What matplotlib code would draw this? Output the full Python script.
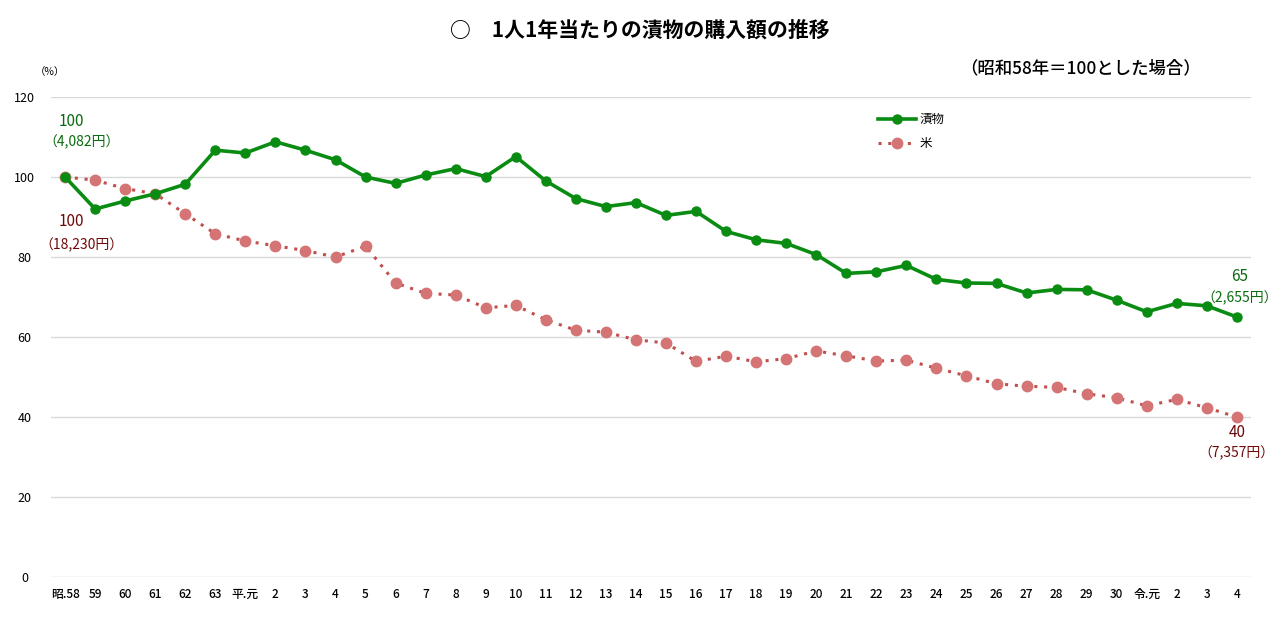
import matplotlib.pyplot as plt
import numpy as np

plt.rcParams['font.family'] = ['Noto Sans CJK JP', 'DejaVu Sans']

# x categories (昭和58年 ～ 令和4年)
years = ['昭.58', '59', '60', '61', '62', '63', '平.元'] + [str(i) for i in range(2, 31)] + ['令.元', '2', '3', '4']

# 漬物 index (昭和58年=100)
tsukemono = [100, 92, 94, 95.8, 98.2, 106.7, 106, 108.8, 106.7, 104.3,
             100, 98.4, 100.5, 102.1, 100.1, 105.1, 99, 94.6, 92.6, 93.6,
             90.4, 91.4, 86.4, 84.3, 83.4, 80.6, 75.9, 76.3, 77.9, 74.4,
             73.5, 73.4, 71, 71.9, 71.8, 69.2, 66.3, 68.4, 67.8, 65]

# 米 index (昭和58年=100)
kome = [100, 99.2, 97.1, 95.8, 90.8, 85.8, 84, 82.8, 81.6, 80,
        82.7, 73.5, 70.9, 70.5, 67.3, 67.9, 64.3, 61.7, 61.2, 59.3,
        58.5, 53.9, 55.2, 53.8, 54.6, 56.5, 55.3, 54, 54.2, 52.2,
        50.3, 48.3, 47.7, 47.4, 45.8, 44.8, 42.8, 44.4, 42.3, 40]

green = '#0a8c12'
green_txt = '#0b6b10'
red_line = '#c0504d'
red_mk = '#d47474'
red_txt = '#6e0a0a'

x = np.arange(len(years))

fig = plt.figure(figsize=(12.8, 6.22), dpi=100)
ax = fig.add_axes([51/1280, 1 - 577/622, 1200/1280, 480/622])

ax.plot(x, tsukemono, color=green, lw=2.6, marker='o', ms=6.5, label='漬物', zorder=3)
ax.plot(x, kome, color=red_line, lw=2.2, ls=(0, (1, 2.2)), marker='o', ms=7.5,
        mfc=red_mk, mec=red_mk, label='米', zorder=2)

ax.set_ylim(0, 120)
ax.set_xlim(-0.47, len(years) - 1 + 0.47)
ax.set_yticks(range(0, 121, 20))
ax.set_xticks(x)
ax.set_xticklabels(years, fontsize=8.5, fontweight='medium')
ax.grid(axis='y', color='#d9d9d9', lw=1)
ax.set_axisbelow(True)
for s in ax.spines.values():
    s.set_visible(False)
ax.tick_params(axis='both', length=0)
ax.tick_params(axis='x', pad=8)
ax.tick_params(axis='y', pad=19, labelsize=9)
for lab in ax.get_yticklabels():
    lab.set_horizontalalignment('center')

# value labels
ax.text(0.2, 114, '100', color=green_txt, fontsize=11, ha='center', va='center')
ax.text(0.55, 108.7, '（4,082円）', color=green_txt, fontsize=10, ha='center', va='center')
ax.text(0.2, 89, '100', color=red_txt, fontsize=11, ha='center', va='center')
ax.text(0.55, 83, '（18,230円）', color=red_txt, fontsize=10, ha='center', va='center')
ax.text(39.1, 75.2, '65', color=green_txt, fontsize=11, ha='center', va='center')
ax.text(39.1, 69.7, '（2,655円）', color=green_txt, fontsize=10, ha='center', va='center')
ax.text(39.0, 36.2, '40', color=red_txt, fontsize=11, ha='center', va='center')
ax.text(39.0, 31, '（7,357円）', color=red_txt, fontsize=10, ha='center', va='center')

ax.legend(loc='upper left', bbox_to_anchor=(0.68, 0.99), frameon=False,
          fontsize=9, handlelength=3, labelspacing=0.9, handletextpad=0.3)

fig.text(640/1280, 1 - 30/622, '○　1人1年当たりの漬物の購入額の推移', ha='center', va='center',
         fontsize=15, fontweight='bold')
fig.text(1080/1280, 1 - 68/622, '（昭和58年＝100とした場合）', ha='center', va='center',
         fontsize=12.5, fontweight='medium')
fig.text(50/1280, 1 - 72/622, '（%）', ha='center', va='center', fontsize=7.5)

fig.savefig('out.png', dpi=100)
